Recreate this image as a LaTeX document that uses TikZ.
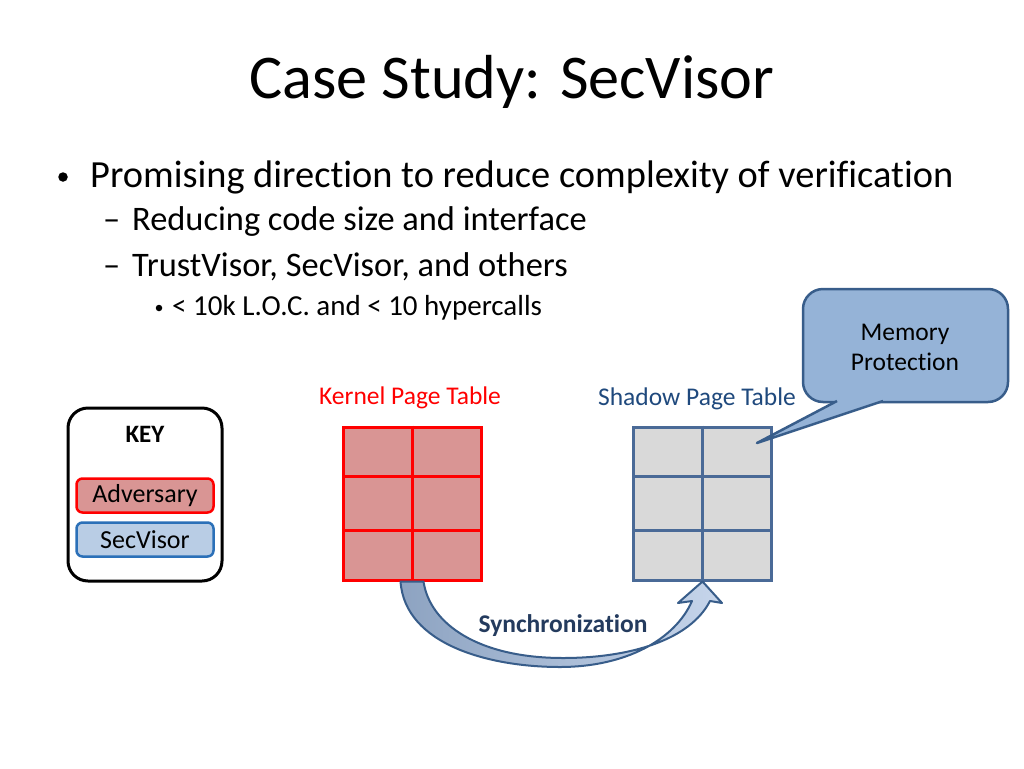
\documentclass[tikz,border=0pt]{standalone}
\usepackage{fontspec}
\setmainfont{Carlito}[Ligatures=NoCommon]
\usetikzlibrary{positioning}
\definecolor{kfill}{HTML}{D99594}
\definecolor{sfill}{HTML}{D9D9D9}
\definecolor{sline}{HTML}{4A6A97}
\definecolor{slabel}{HTML}{1F497D}
\definecolor{callfill}{HTML}{95B3D7}
\definecolor{callline}{HTML}{385D8A}
\definecolor{keyblue}{HTML}{B9CDE5}
\definecolor{keyline}{HTML}{2B70B8}
\definecolor{syncdark}{HTML}{8DA3C1}
\definecolor{synclight}{HTML}{C6D5EB}
\definecolor{synctext}{HTML}{243B5E}

\begin{document}
\begin{tikzpicture}[
  x=1pt, y=-1pt,
  txt/.style={inner sep=0pt, anchor=base west},
  title/.style={inner sep=0pt, anchor=base, font=\fontsize{62.2}{70}\selectfont},
  lvlone/.style={txt, font=\fontsize{38.4}{44}\selectfont},
  lvltwo/.style={txt, font=\fontsize{34.4}{38}\selectfont},
  lvlthree/.style={txt, font=\fontsize{29}{32}\selectfont},
  dot/.style={circle, fill=black, inner sep=0pt},
  tbllabel/.style={inner sep=0pt, anchor=base, font=\fontsize{25.5}{30}\selectfont},
  tbl/.style={draw, line width=3pt, minimum width=138pt, minimum height=153pt, inner sep=0pt},
  keyitem/.style={draw, line width=2.5pt, rounded corners=6pt, minimum width=137pt, minimum height=34pt, inner sep=0pt, font=\fontsize{26}{30}\selectfont}
  ]

  \fill[white] (0,0) rectangle (1024,768);
  \useasboundingbox (0,0) rectangle (1024,768);

  \node (ttl) [title] at (512,98) {Case Study: SecVisor};

  \node (b1dot) [dot, minimum size=9.5pt] at (63,177) {};
  \node (b1) [lvlone] at (90,187) {Promising direction to reduce complexity of verification};
  \node (b2dash) [lvltwo] at (103,230) {--};
  \node (b2) [lvltwo] at (132,230) {Reducing code size and interface};
  \node (b3dash) [lvltwo] at (103,276) {--};
  \node (b3) [lvltwo] at (132,276) {TrustVisor, SecVisor, and others};
  \node (b4dot) [dot, minimum size=6.5pt] at (159,308) {};
  \node (b4) [lvlthree] at (172,315) {< 10k L.O.C. and < 10 hypercalls};

  \node (key) [draw, line width=3pt, rounded corners=20pt, minimum width=154pt, minimum height=173pt] at (145,494.5) {};
  \node (keyttl) [inner sep=0pt, anchor=base, font=\fontsize{25}{30}\selectfont\bfseries] at (145,442) {KEY};
  \node (adv) [keyitem, draw=red, fill=kfill] at (145,495.5) {Adversary};
  \node (sv) [keyitem, draw=keyline, fill=keyblue, below=7.5pt of adv] {SecVisor};

  \node (kpt) [tbl, draw=red, fill=kfill] at (412.5,503.5) {};
  \draw [red, line width=3pt] (kpt.north) -- (kpt.south);
  \draw [red, line width=3pt] ([yshift=-51pt]kpt.north west) -- ([yshift=-51pt]kpt.north east);
  \draw [red, line width=3pt] ([yshift=51pt]kpt.south west) -- ([yshift=51pt]kpt.south east);
  \node (klbl) [tbllabel, text=red] at (410,404) {Kernel Page Table};

  \node (spt) [tbl, draw=sline, fill=sfill] at (702.5,503.5) {};
  \draw [sline, line width=3pt] (spt.north) -- (spt.south);
  \draw [sline, line width=3pt] ([yshift=-51pt]spt.north west) -- ([yshift=-51pt]spt.north east);
  \draw [sline, line width=3pt] ([yshift=51pt]spt.south west) -- ([yshift=51pt]spt.south east);
  \node (slbl) [tbllabel, text=slabel] at (697,405) {Shadow Page Table};

  \coordinate (tip) at (757,443);
  \node (memp) [draw=callline, fill=callfill, line width=2.5pt, rounded corners=20pt, minimum width=205pt, minimum height=113pt] at (905.5,345.5) {};
  \fill [callfill] (837,398) -- (837,401) -- (tip) -- (883,401) -- (883,398) -- cycle;
  \draw [callline, line width=2.5pt, line join=round] (837,401) -- (tip) -- (883,401);
  \node (memptxt) [align=center, inner sep=0pt, font=\fontsize{25.5}{30}\selectfont] at (905,347) {Memory\\Protection};

  \draw [callline, line width=2pt, line join=round, left color=syncdark, right color=synclight]
    ([xshift=-12pt]kpt.south) .. controls (405,645) and (490,667) .. (560,667)
    .. controls (625,667) and (675,640) .. (692,601) -- (678,603) -- (spt.south) -- (722,603) -- (710,601)
    .. controls (690,640) and (630,658) .. (563,658)
    .. controls (480,658) and (430,625) .. ([xshift=11pt]kpt.south) -- cycle;
  \node (sync) [inner sep=0pt, anchor=base, text=synctext, font=\fontsize{25.5}{30}\selectfont\bfseries] at (563,632) {Synchronization};

\end{tikzpicture}
\end{document}
